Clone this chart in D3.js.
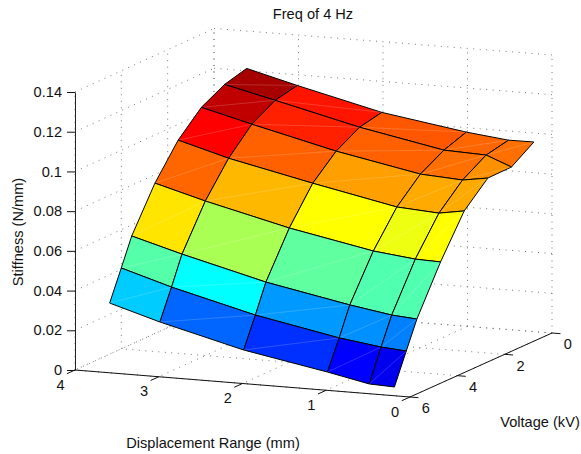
<!DOCTYPE html>
<html>
<head>
<meta charset="utf-8">
<script src="https://cdnjs.cloudflare.com/ajax/libs/d3/7.8.5/d3.min.js"></script>
<style>
  body { margin: 0; background: white; }
  text { font-family: "Liberation Sans", sans-serif; fill: #111; }
</style>
</head>
<body>
<div id="chartArea"></div>
<script>
// surface grid
const displacement = [0.2, 0.5, 1, 2, 3, 3.6];
const voltage = [0.05, 1, 2, 3, 4, 5, 5.45, 5.95];

// one row per voltage, one column per displacement
const stiffness = [
  [0.0958, 0.0957, 0.0981, 0.1047, 0.1149, 0.1215],
  [0.0883, 0.0933, 0.0941, 0.1023, 0.1125, 0.1185],
  [0.0881, 0.0861, 0.0874, 0.0956, 0.1058, 0.1123],
  [0.0769, 0.0748, 0.0762, 0.0848, 0.0940, 0.1011],
  [0.0566, 0.0570, 0.0594, 0.0676, 0.0778, 0.0848],
  [0.0332, 0.0342, 0.0376, 0.0457, 0.0564, 0.0635],
  [0.0195, 0.0205, 0.0234, 0.0315, 0.0422, 0.0498],
  [0.0041, 0.0046, 0.0089, 0.0166, 0.0273, 0.0348]
];

// colour level of each patch, 0..1 on the jet map
const cellLevel = [
  [0.765, 0.775, 0.790, 0.855, 0.9625],
  [0.734, 0.765, 0.780, 0.844, 0.9375],
  [0.708, 0.708, 0.719, 0.780, 0.875],
  [0.625, 0.608, 0.625, 0.695, 0.775],
  [0.453, 0.453, 0.469, 0.542, 0.650],
  [0.250, 0.266, 0.275, 0.375, 0.458],
  [0.108, 0.125, 0.172, 0.225, 0.325]
];

const xTicks = [0, 1, 2, 3, 4];
const yTicks = [0, 2, 4, 6];
const zTicks = [0, 0.02, 0.04, 0.06, 0.08, 0.1, 0.12, 0.14];

const svg = d3.select("#chartArea").append("svg")
  .attr("width", 581)
  .attr("height", 454);

// floor corners of the box on the screen
const backX = d3.scaleLinear().domain([0, 4]).range([552, 214]);
const frontX = d3.scaleLinear().domain([0, 4]).range([410, 75]);
const backY = d3.scaleLinear().domain([0, 4]).range([333, 306.5]);
const frontY = d3.scaleLinear().domain([0, 4]).range([397, 370]);
const depth = d3.scaleLinear().domain([0, 6]).range([0, 1]);
const zScale = d3.scaleLinear().domain([0, 0.14]).range([370, 92]);

function project(x, y, z) {
  const t = depth(y);
  return [
    backX(x) + (frontX(x) - backX(x)) * t,
    backY(x) + (frontY(x) - backY(x)) * t - (370 - zScale(z))
  ];
}

const jet = d3.scaleLinear()
  .domain([0, 0.125, 0.375, 0.625, 0.875, 1])
  .range(["#000080", "#0000ff", "#00ffff", "#ffff00", "#ff0000", "#800000"]);

const line = d3.line();

//dotted grid on the floor and the two back walls
const zMax = zTicks[zTicks.length - 1];
const gridSegs = [];
xTicks.forEach(x => {
  gridSegs.push([project(x, 0, 0), project(x, 6, 0)]);
  gridSegs.push([project(x, 0, 0), project(x, 0, zMax)]);
});
yTicks.forEach(y => {
  gridSegs.push([project(0, y, 0), project(4, y, 0)]);
  gridSegs.push([project(4, y, 0), project(4, y, zMax)]);
});
zTicks.forEach(z => {
  gridSegs.push([project(4, 6, z), project(4, 0, z)]);
  gridSegs.push([project(4, 0, z), project(0, 0, z)]);
});

svg.append("g").selectAll("path")
  .data(gridSegs)
  .enter()
  .append("path")
    .attr("d", line)
    .attr("fill", "none")
    .attr("stroke", "#777")
    .attr("stroke-width", 1)
    .attr("stroke-dasharray", "1,5.5");

// patches, far ones first
const cells = [];
voltage.slice(0, -1).forEach((y, r) => {
  for (let c = displacement.length - 2; c >= 0; c--) {
    cells.push({r: r, c: c, level: cellLevel[r][c]});
  }
});

function corner(r, c) {
  return project(displacement[c], voltage[r], stiffness[r][c]);
}

const patch = svg.append("g").selectAll("g")
  .data(cells)
  .enter()
  .append("g");

patch.append("path")
  .attr("d", d => line([corner(d.r, d.c), corner(d.r, d.c + 1), corner(d.r + 1, d.c + 1), corner(d.r + 1, d.c)]) + "Z")
  .attr("fill", d => jet(d.level))
  .attr("stroke", "black")
  .attr("stroke-width", 1)
  .attr("stroke-linejoin", "round");

// thin light seam across each patch
patch.append("path")
  .attr("d", d => line([corner(d.r, d.c), corner(d.r + 1, d.c + 1)]))
  .attr("stroke", "white")
  .attr("stroke-opacity", 0.25)
  .attr("stroke-width", 0.7);

// z axis
const zAxis = d3.axisLeft(zScale)
  .tickValues(zTicks)
  .tickFormat(d3.format("~g"))
  .tickSize(8)
  .tickPadding(5)
  .tickSizeOuter(0);

const zG = svg.append("g")
  .attr("transform", "translate(75,0)")
  .call(zAxis);
zG.selectAll("text").attr("font-size", 14.6).attr("font-family", null);
zG.selectAll("line").attr("stroke", "#111");
zG.select(".domain").attr("stroke", "#222");

// x and y axes along the floor
svg.append("path")
  .attr("d", line([project(4, 6, 0), project(0, 6, 0), project(0, 0, 0)]))
  .attr("fill", "none")
  .attr("stroke", "#111")
  .attr("stroke-width", 1);

const xG = svg.append("g").selectAll("g")
  .data(xTicks)
  .enter()
  .append("g");

xG.append("path")
  .attr("d", d => line([project(d, 6, 0), project(d, 6.35, 0)]))
  .attr("stroke", "#111");

xG.append("text")
  .attr("x", d => project(d, 7.1, 0)[0] + 11)
  .attr("y", d => project(d, 7.1, 0)[1] + 8)
  .attr("text-anchor", "middle")
  .attr("font-size", 14.6)
  .text(d => d);

const yG = svg.append("g").selectAll("g")
  .data(yTicks)
  .enter()
  .append("g");

yG.append("path")
  .attr("d", d => line([project(0, d, 0), project(-0.1, d, 0)]))
  .attr("stroke", "#111");

yG.append("text")
  .attr("x", d => project(-0.2, d, 0)[0] - 1)
  .attr("y", d => project(-0.2, d, 0)[1] + 15)
  .attr("text-anchor", "middle")
  .attr("font-size", 14.6)
  .text(d => d);

// titles
svg.append("text")
  .attr("x", 313)
  .attr("y", 19)
  .attr("text-anchor", "middle")
  .attr("font-size", 14.6)
  .text("Freq of 4 Hz");

svg.append("text")
  .attr("x", 213)
  .attr("y", 448)
  .attr("text-anchor", "middle")
  .attr("font-size", 14.6)
  .text("Displacement Range (mm)");

svg.append("text")
  .attr("x", 540)
  .attr("y", 427)
  .attr("text-anchor", "middle")
  .attr("font-size", 14.6)
  .text("Voltage (kV)");

svg.append("text")
  .attr("transform", "translate(22.5,232) rotate(-90)")
  .attr("text-anchor", "middle")
  .attr("font-size", 14.6)
  .text("Stiffness (N/mm)");
</script>
</body>
</html>
